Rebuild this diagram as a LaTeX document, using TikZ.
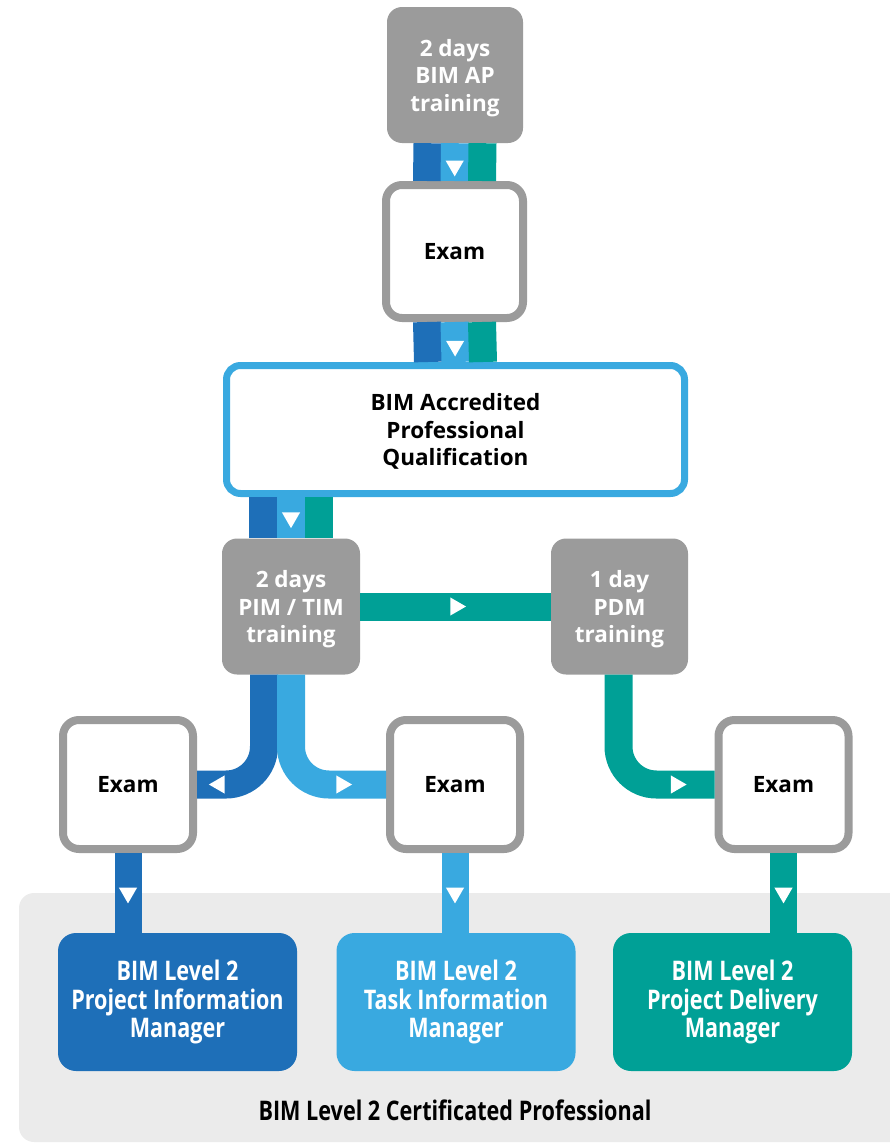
\documentclass[tikz,border=0pt]{standalone}
\usepackage{fontspec}
\setmainfont{Open Sans}
\newfontfamily\condfont{Open Sans}[FakeStretch=0.8]
\usetikzlibrary{shapes.geometric}

\definecolor{pimblue}{HTML}{1E6FB8}
\definecolor{timblue}{HTML}{39A9E0}
\definecolor{pdmteal}{HTML}{00A096}
\definecolor{boxgray}{HTML}{9B9B9B}
\definecolor{panelgray}{HTML}{EBEBEB}

\tikzset{
  boxfont/.style={font=\bfseries\fontsize{22.5}{27.5}\selectfont},
  training/.style={boxfont, fill=boxgray, rounded corners=15pt, minimum width=136pt,
    minimum height=136pt, inner sep=0pt, text=white, align=center, text depth=-1pt},
  exam/.style={boxfont, draw=boxgray, line width=8pt, fill=white, rounded corners=16pt,
    minimum width=130pt, minimum height=129pt, inner sep=0pt},
  role/.style={font=\condfont\bfseries\fontsize{27}{28.5}\selectfont, rounded corners=18pt,
    minimum width=239pt, minimum height=138pt, inner sep=0pt, text=white, align=center},
  band/.style={line width=28pt},
  tri/.style={regular polygon, regular polygon sides=3, fill=white, draw=none,
    sharp corners, inner sep=0pt, minimum size=21pt},
  tridown/.style={tri, shape border rotate=180},
  trileft/.style={tri, shape border rotate=90},
  triright/.style={tri, shape border rotate=270}
}

\begin{document}
\begin{tikzpicture}[x=1pt, y=-1pt]
    \useasboundingbox (0,0) rectangle (890,1143);

    % draw grey panel behind the certificates
    \fill[panelgray, rounded corners=15pt] (19,893) rectangle (910,1142);

    % draw boxes
    \node[training] (aptrain) at (455,75) {2 days\\BIM AP\\training};
    \node[exam, minimum width=137pt, minimum height=133pt] (apexam) at (454.5,251.5) {Exam};
    \node[boxfont, draw=timblue, line width=7pt, fill=white, rounded corners=14pt,
      minimum width=458pt, minimum height=128pt, inner sep=0pt, align=center, text depth=-1pt]
      (apqual) at (455.5,429.5) {BIM Accredited\\Professional\\Qualification};
    \node[training, minimum width=138pt] (pimtrain) at (291,606.5) {2 days\\PIM / TIM\\training};
    \node[training, minimum width=137pt] (pdmtrain) at (619.5,606.5) {1 day\\PDM\\training};

    \node[exam] (pimexam) at (128,784.5) {Exam};
    \node[exam] (timexam) at (455,784.5) {Exam};
    \node[exam] (pdmexam) at (783.5,784.5) {Exam};

    \node[role, fill=pimblue] (pim) at (177.5,1002) {BIM Level 2\\Project Information\\Manager};
    \node[role, fill=timblue] (tim) at (456,1002) {BIM Level 2\\Task Information\\Manager};
    \node[role, fill=pdmteal] (pdm) at (732.5,1002) {BIM Level 2\\Project Delivery\\Manager};

    \node[font=\condfont\bfseries\fontsize{27}{30}\selectfont] (certified) at (455,1110)
      {BIM Level 2 Certificated Professional};

    % draw the three bands down to the qualification
    \draw[band, pimblue] ([xshift=-27.5pt]aptrain.south) -- ([xshift=-27.5pt]apexam.north);
    \draw[band, timblue] (aptrain.south) -- node[tridown, pos=0.6] {} (apexam.north);
    \draw[band, pdmteal] ([xshift=27.5pt]aptrain.south) -- ([xshift=27.5pt]apexam.north);

    \draw[band, pimblue] ([xshift=-27.5pt]apexam.south) -- ([xshift=-27.5pt]apqual.north);
    \draw[band, timblue] (apexam.south) -- node[tridown, pos=0.6] {} (apqual.north);
    \draw[band, pdmteal] ([xshift=27.5pt]apexam.south) -- ([xshift=27.5pt]apqual.north);

    \draw[band, pimblue] ([xshift=-28pt]pimtrain.north |- apqual.south) -- ([xshift=-28pt]pimtrain.north);
    \draw[band, timblue] (pimtrain.north |- apqual.south) -- node[tridown] {} (pimtrain.north);
    \draw[band, pdmteal] ([xshift=28pt]pimtrain.north |- apqual.south) -- ([xshift=28pt]pimtrain.north);

    % draw branches to the exams
    \draw[band, pdmteal] (pimtrain.east) -- node[triright] {} (pdmtrain.west);
    \draw[band, pimblue, rounded corners=38pt] ([xshift=-27pt]pimtrain.south) |- node[trileft, pos=0.833] {} (pimexam.east);
    \draw[band, timblue, rounded corners=38pt] (pimtrain.south) |- node[triright, pos=0.766] {} (timexam.west);
    \draw[band, pdmteal, rounded corners=38pt] ([xshift=-1pt]pdmtrain.south) |- node[triright, pos=0.8] {} (pdmexam.west);

    % draw exams to certificates
    \draw[band, line width=27pt, pimblue] (pimexam.south) -- node[tridown] {} (pimexam.south |- pim.north);
    \draw[band, line width=27pt, timblue] (timexam.south) -- node[tridown] {} (timexam.south |- tim.north);
    \draw[band, line width=27pt, pdmteal] (pdmexam.south) -- node[tridown] {} (pdmexam.south |- pdm.north);

\end{tikzpicture}
\end{document}
